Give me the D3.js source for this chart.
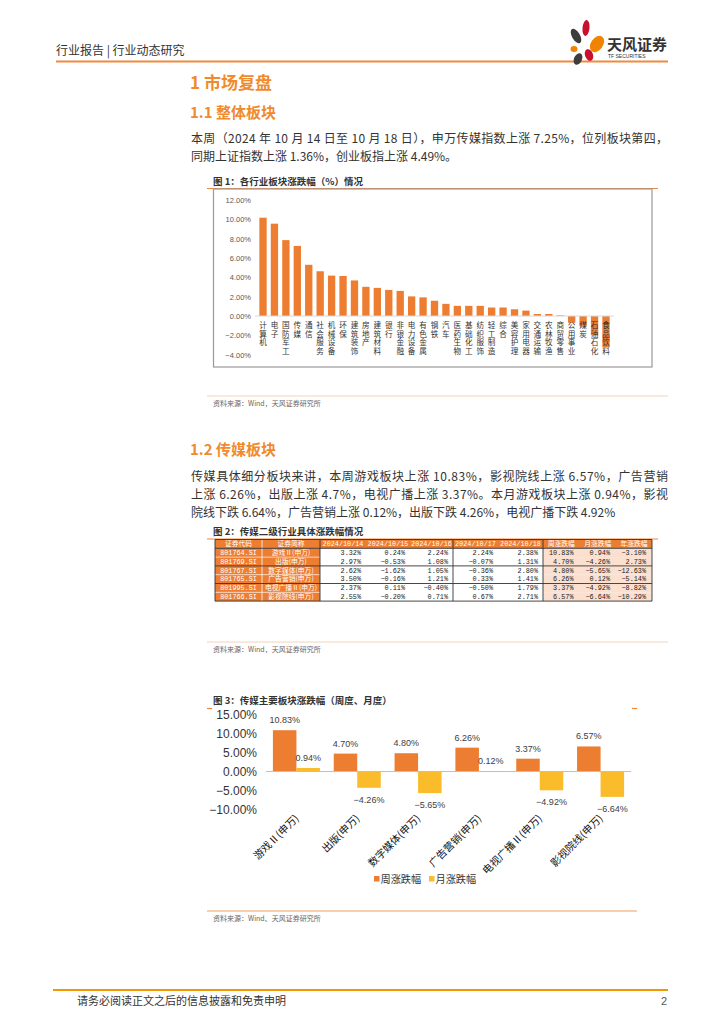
<!DOCTYPE html>
<html><head><meta charset="utf-8">
<script src="https://cdn.jsdelivr.net/npm/d3@7"></script>
<style>body{margin:0;background:#fff;} svg{display:block;font-family:"Noto Sans CJK SC","Noto Sans",sans-serif;}</style>
</head><body>
<script>
// ---------- DATA ----------
const industries = ["计算机","电子","国防军工","传媒","通信","社会服务","机械设备","环保","建筑装饰","房地产","建筑材料","银行","非银金融","电力设备","有色金属","钢铁","汽车","医药生物","基础化工","纺织服饰","轻工制造","综合","美容护理","家用电器","交通运输","农林牧渔","商贸零售","公用事业","煤炭","石油石化","食品饮料"];
const industryChange = [10.17,9.55,7.85,7.25,5.30,4.63,4.18,4.14,3.68,3.02,2.91,2.70,2.60,2.03,1.93,1.58,1.26,1.05,1.05,1.05,0.88,0.88,0.70,0.56,0.21,0.21,0.07,-0.70,-1.05,-2.00,-3.23];
const chart1Ticks = [12,10,8,6,4,2,0,-2,-4];

const tableHeaders = ["证券代码","证券简称","2024/10/14","2024/10/15","2024/10/16","2024/10/17","2024/10/18","周涨跌幅","月涨跌幅","年涨跌幅"];
const tableCodes = ["801764.SI","801769.SI","801767.SI","801765.SI","801995.SI","801766.SI"];
const tableNames = ["游戏Ⅱ(申万)","出版(申万)","数字媒体(申万)","广告营销(申万)","电视广播Ⅱ(申万)","影视院线(申万)"];
const tableDaily = [
  [3.32, 0.24, 2.24, 2.24, 2.38],
  [2.97,-0.53, 1.08,-0.07, 1.31],
  [2.62,-1.62, 1.05,-0.36, 2.80],
  [3.50,-0.16, 1.21, 0.33, 1.41],
  [2.37, 0.11,-0.40,-0.50, 1.79],
  [2.55,-0.20, 0.71, 0.67, 2.71]
];
const tableWeek  = [10.83, 4.70, 4.80, 6.26, 3.37, 6.57];
const tableMonth = [0.94, -4.26, -5.65, 0.12, -4.92, -6.64];
const tableYear  = [-3.10, 2.73, -12.63, -5.14, -8.82, -10.29];

const mediaSectors = ["游戏Ⅱ(申万)","出版(申万)","数字媒体(申万)","广告营销(申万)","电视广播Ⅱ(申万)","影视院线(申万)"];
const weeklyChange  = [10.83, 4.70, 4.80, 6.26, 3.37, 6.57];
const monthlyChange = [0.94, -4.26, -5.65, 0.12, -4.92, -6.64];
const chart3Ticks = [15,10,5,0,-5,-10];
const seriesNames = ["周涨跌幅","月涨跌幅"];

// ---------- PAGE ----------
const ORANGE = "#ED7D31", YELLOW = "#FBBC2C", TITLE = "#F08A2E";
const svg = d3.select("body").append("svg").attr("width",724).attr("height",1024);

// header
svg.append("text").attr("x",56).attr("y",55).attr("font-size",12).attr("fill","#333").text("行业报告 | 行业动态研究");
svg.append("line").attr("x1",56).attr("x2",668).attr("y1",61.5).attr("y2",61.5).attr("stroke","#F08A3C").attr("stroke-width",2);
const logo = svg.append("g");
[[576,36,4,8,-30,"#3d3d3d"],[586,28,3.5,8,5,"#c8102e"],[597,44,6,9,35,"#F08300"],[574,49,3.5,3,0,"#F08300"],[589,55,4,6,-20,"#c8102e"],[578,59,4,6,25,"#3d3d3d"]]
 .forEach(p=>logo.append("ellipse").attr("cx",p[0]).attr("cy",p[1]).attr("rx",p[2]).attr("ry",p[3]).attr("transform",`rotate(${p[4]},${p[0]},${p[1]})`).attr("fill",p[5]));
svg.append("text").attr("x",607).attr("y",50).attr("font-size",15).attr("font-weight","bold").attr("fill","#333").text("天风证券");
svg.append("text").attr("x",608).attr("y",58).attr("font-size",5).attr("fill","#333").attr("font-family","Liberation Sans").text("TF SECURITIES");

// section titles
svg.append("text").attr("x",190).attr("y",89).attr("font-size",17).attr("font-weight","bold").attr("fill",TITLE).text("1 市场复盘");
svg.append("text").attr("x",190).attr("y",118).attr("font-size",15).attr("font-weight","bold").attr("fill",TITLE).text("1.1 整体板块");
svg.append("text").attr("x",191).attr("y",143).attr("font-size",12).attr("fill","#333").attr("textLength",477).attr("lengthAdjust","spacing")
  .text("本周（2024 年 10 月 14 日至 10 月 18 日），申万传媒指数上涨 7.25%，位列板块第四，");
svg.append("text").attr("x",191).attr("y",161).attr("font-size",12).attr("fill","#333").text("同期上证指数上涨 1.36%，创业板指上涨 4.49%。");

// ---------- FIGURE 1 ----------
svg.append("text").attr("x",213).attr("y",185).attr("font-size",9.5).attr("font-weight","bold").attr("fill","#333").text("图 1：各行业板块涨跌幅（%）情况");
svg.append("line").attr("x1",207).attr("x2",658).attr("y1",188.5).attr("y2",188.5).attr("stroke","#F0883A").attr("stroke-width",1.2);
svg.append("rect").attr("x",213.5).attr("y",189).attr("width",438.5).attr("height",178).attr("fill","#fff").attr("stroke","#9a9a9a").attr("stroke-width",1.2);

const y1 = d3.scaleLinear().domain([-4,12]).range([354.7,200]);
const x1 = d3.scaleBand().domain(industries).range([257.3,611.7]).paddingInner(0.36).paddingOuter(0.18);
const g1 = svg.append("g");
const ax1 = d3.axisLeft(y1).tickValues(chart1Ticks).tickSize(0).tickPadding(0).tickFormat(d=>d3.format(".2f")(d)+"%");
const axg1 = g1.append("g").attr("transform","translate(251,0)").call(ax1);
axg1.select(".domain").remove();
axg1.selectAll("text").attr("font-size",7.5).attr("fill","#595959").attr("font-family","Liberation Sans");
g1.selectAll("rect.bar").data(industryChange).join("rect").attr("class","bar")
  .attr("x",(d,i)=>x1(industries[i])).attr("width",x1.bandwidth())
  .attr("y",d=>y1(Math.max(0,d))).attr("height",d=>Math.abs(y1(d)-y1(0))).attr("fill",ORANGE);
g1.append("line").attr("x1",255).attr("x2",614).attr("y1",y1(0)).attr("y2",y1(0)).attr("stroke","#d9d9d9").attr("stroke-width",1);
g1.selectAll("text.cat").data(industries).join("text").attr("class","cat")
  .attr("x",d=>x1(d)+x1.bandwidth()/2).attr("y",321.5)
  .style("writing-mode","vertical-rl").style("letter-spacing","0.9px")
  .attr("font-size",7.6).attr("fill","#333").text(d=>d);
svg.append("line").attr("x1",207).attr("x2",668).attr("y1",396).attr("y2",396).attr("stroke","#F4C6A2").attr("stroke-width",0.8);
svg.append("text").attr("x",213).attr("y",406).attr("font-size",7).attr("fill","#666").text("资料来源：Wind，天风证券研究所");

// ---------- SECTION 1.2 ----------
svg.append("text").attr("x",190).attr("y",455).attr("font-size",15).attr("font-weight","bold").attr("fill",TITLE).text("1.2 传媒板块");
svg.append("text").attr("x",191).attr("y",481).attr("font-size",12).attr("fill","#333").attr("textLength",477).attr("lengthAdjust","spacing")
  .text("传媒具体细分板块来讲，本周游戏板块上涨 10.83%，影视院线上涨 6.57%，广告营销");
svg.append("text").attr("x",191).attr("y",499).attr("font-size",12).attr("fill","#333").attr("textLength",477).attr("lengthAdjust","spacing")
  .text("上涨 6.26%，出版上涨 4.7%，电视广播上涨 3.37%。本月游戏板块上涨 0.94%，影视");
svg.append("text").attr("x",191).attr("y",517).attr("font-size",12).attr("fill","#333")
  .text("院线下跌 6.64%，广告营销上涨 0.12%，出版下跌 4.26%，电视广播下跌 4.92%");

// ---------- FIGURE 2 (table) ----------
svg.append("text").attr("x",213).attr("y",535).attr("font-size",9.5).attr("font-weight","bold").attr("fill","#333").text("图 2：传媒二级行业具体涨跌幅情况");
svg.append("line").attr("x1",207).attr("x2",658).attr("y1",539).attr("y2",539).attr("stroke","#F0883A").attr("stroke-width",1.2);
const colEdges = [215,262,320,366,410,453,498,543,579.5,616,652];
const rowTop = 539.5, headH = 8.8, rowH = 8.8;
const tg = svg.append("g").attr("font-size",6.8);
const fmt = v => d3.format(".2f")(v)+"%";
tg.append("rect").attr("x",colEdges[0]).attr("y",rowTop).attr("width",colEdges[10]-colEdges[0]).attr("height",headH).attr("fill",ORANGE);
tableHeaders.forEach((h,c)=>{
  tg.append("text").attr("x",(colEdges[c]+colEdges[c+1])/2).attr("y",rowTop+headH/2).attr("dy","0.35em")
    .attr("text-anchor","middle").attr("fill","#fff").attr("font-family",c>=2&&c<=6?"Liberation Mono":"Noto Sans CJK SC").text(h);
});
tableCodes.forEach((code,r)=>{
  const y = rowTop+headH+r*rowH;
  tg.append("rect").attr("x",colEdges[0]).attr("y",y).attr("width",colEdges[2]-colEdges[0]).attr("height",rowH).attr("fill",ORANGE);
  tg.append("rect").attr("x",colEdges[7]).attr("y",y).attr("width",colEdges[10]-colEdges[7]).attr("height",rowH).attr("fill","#FCE0CF");
  tg.append("text").attr("x",(colEdges[0]+colEdges[1])/2).attr("y",y+rowH/2).attr("dy","0.35em").attr("text-anchor","middle").attr("fill","#fff").attr("font-family","Liberation Mono").text(code);
  tg.append("text").attr("x",(colEdges[1]+colEdges[2])/2).attr("y",y+rowH/2).attr("dy","0.35em").attr("text-anchor","middle").attr("fill","#fff").text(tableNames[r]);
  const vals = tableDaily[r].concat([tableWeek[r],tableMonth[r],tableYear[r]]);
  vals.forEach((v,k)=>{
    const c = k+2;
    tg.append("text").attr("x",colEdges[c+1]-(c>=7?6:5)).attr("y",y+rowH/2).attr("dy","0.35em").attr("text-anchor","end")
      .attr("fill","#222").attr("font-family","Liberation Mono").text(fmt(v));
  });
});
const tableBottom = rowTop+headH+6*rowH;
tg.append("line").attr("x1",262).attr("x2",262).attr("y1",rowTop).attr("y2",tableBottom).attr("stroke","#fff").attr("stroke-width",0.8);
[rowTop+headH+rowH, rowTop+headH+3*rowH, rowTop+headH+5*rowH].forEach(y=>tg.append("line").attr("x1",colEdges[0]).attr("x2",colEdges[2]).attr("y1",y).attr("y2",y).attr("stroke","#fff").attr("stroke-width",0.6));
[rowTop, rowTop+headH, rowTop+headH+2*rowH, rowTop+headH+4*rowH, tableBottom].forEach(y=>tg.append("line").attr("x1",colEdges[0]).attr("x2",colEdges[10]).attr("y1",y).attr("y2",y).attr("stroke","#333").attr("stroke-width",0.9));
[215,320,453,543,652].forEach(x=>tg.append("line").attr("x1",x).attr("x2",x).attr("y1",rowTop).attr("y2",tableBottom).attr("stroke","#333").attr("stroke-width",0.9));
svg.append("line").attr("x1",207).attr("x2",668).attr("y1",642).attr("y2",642).attr("stroke","#F4C6A2").attr("stroke-width",0.8);
svg.append("text").attr("x",213).attr("y",652).attr("font-size",7).attr("fill","#666").text("资料来源：Wind，天风证券研究所");

// ---------- FIGURE 3 ----------
svg.append("text").attr("x",213).attr("y",704).attr("font-size",9.5).attr("font-weight","bold").attr("fill","#333").text("图 3：传媒主要板块涨跌幅（周度、月度）");
svg.append("line").attr("x1",207).attr("x2",212).attr("y1",708.5).attr("y2",708.5).attr("stroke","#F0883A").attr("stroke-width",1.2);
svg.append("line").attr("x1",632).attr("x2",637).attr("y1",708.5).attr("y2",708.5).attr("stroke","#F0883A").attr("stroke-width",1.2);

const y3 = d3.scaleLinear().domain([-10,15]).range([809.7,714.3]);
const x3 = d3.scaleBand().domain(mediaSectors).range([266,631]).paddingInner(0.227).paddingOuter(0.1135);
const xs = d3.scaleBand().domain(seriesNames).range([0,x3.bandwidth()]);
const g3 = svg.append("g");
const ax3 = d3.axisLeft(y3).tickValues(chart3Ticks).tickSize(0).tickPadding(0).tickFormat(d=>(d<0?"\u2212":"")+d3.format(".2f")(Math.abs(d))+"%");
const axg3 = g3.append("g").attr("transform","translate(257,0)").call(ax3);
axg3.select(".domain").remove();
axg3.selectAll("text").attr("font-size",12).attr("fill","#333").attr("font-family","Liberation Sans");
const series = [weeklyChange, monthlyChange];
const colors = [ORANGE, YELLOW];
series.forEach((vals,s)=>{
  g3.selectAll("rect.s"+s).data(vals).join("rect").attr("class","s"+s)
    .attr("x",(d,i)=>x3(mediaSectors[i])+xs(seriesNames[s])).attr("width",xs.bandwidth())
    .attr("y",d=>y3(Math.max(0,d))).attr("height",d=>Math.abs(y3(d)-y3(0))).attr("fill",colors[s]);
  g3.selectAll("text.l"+s).data(vals).join("text").attr("class","l"+s)
    .attr("x",(d,i)=>x3(mediaSectors[i])+xs(seriesNames[s])+xs.bandwidth()/2)
    .attr("y",d=>d>=0?y3(d)-7:y3(d)+15).attr("text-anchor","middle").attr("font-size",9).attr("fill","#404040")
    .attr("font-family","Liberation Sans").text(d=>(d<0?"\u2212":"")+d3.format(".2f")(Math.abs(d))+"%");
});
g3.append("line").attr("x1",266).attr("x2",631).attr("y1",y3(0)).attr("y2",y3(0)).attr("stroke","#bfbfbf").attr("stroke-width",1);
mediaSectors.forEach(name=>{
  const cx = x3(name)+x3.bandwidth()/2+3;
  g3.append("text").attr("transform",`translate(${cx},819) rotate(-45)`).attr("text-anchor","end")
    .attr("font-size",10.3).attr("fill","#111").text(name);
});
// legend
const lg = svg.append("g");
[[374,0],[429,1]].forEach(([lx,s])=>{
  lg.append("rect").attr("x",lx).attr("y",876).attr("width",5.5).attr("height",5.5).attr("fill",colors[s]);
  lg.append("text").attr("x",lx+6.5).attr("y",883).attr("font-size",10.2).attr("fill","#333").text(seriesNames[s]);
});
svg.append("line").attr("x1",207).attr("x2",637).attr("y1",911).attr("y2",911).attr("stroke","#F0A060").attr("stroke-width",1);
svg.append("text").attr("x",213).attr("y",921).attr("font-size",7).attr("fill","#666").text("资料来源：Wind、天风证券研究所");

// footer
svg.append("line").attr("x1",53).attr("x2",668).attr("y1",990).attr("y2",990).attr("stroke","#F39800").attr("stroke-width",2);
svg.append("text").attr("x",77).attr("y",1005).attr("font-size",11).attr("fill","#333").text("请务必阅读正文之后的信息披露和免责申明");
svg.append("text").attr("x",661).attr("y",1005).attr("font-size",11).attr("fill","#555").attr("font-family","Liberation Sans").text("2");
</script>
</body></html>
